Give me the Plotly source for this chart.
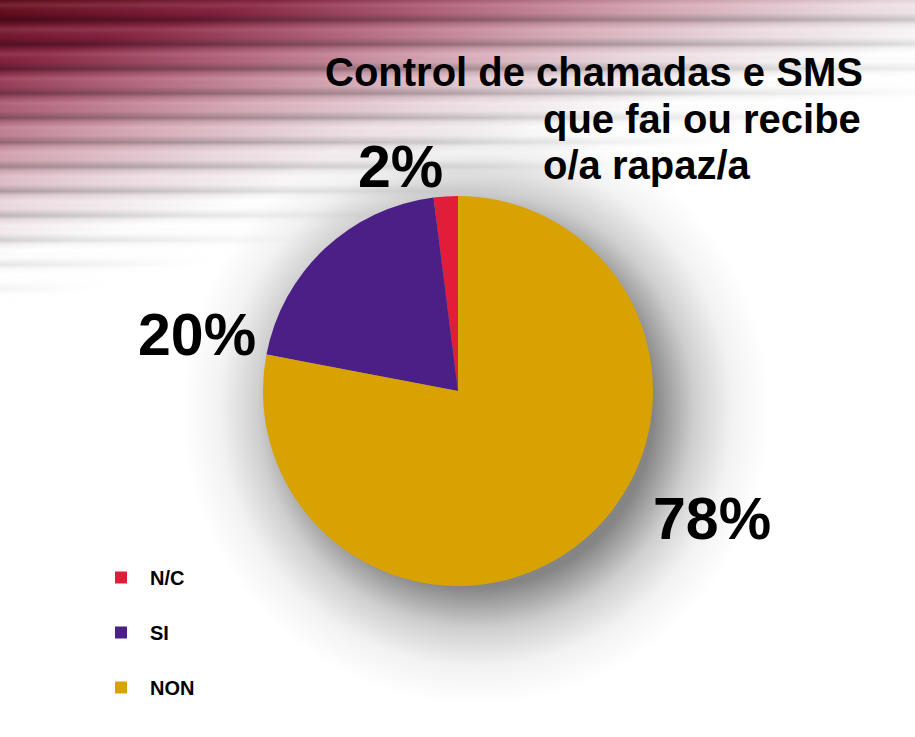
import base64
import plotly.graph_objects as go

W, H = 915, 737

# datos da enquisa (%)
categorias = ["N/C", "SI", "NON"]
valores = [2, 20, 78]
cores = ["#E11D3A", "#4B2086", "#D8A202"]

titulo = ["Control de chamadas e SMS", "que fai ou recibe", "o/a rapaz/a"]


def fx(x):
    return x / W


def fy(y):
    return 1 - y / H


# fondo: raias granate que esvaecen cara a branco + sombra da tarta
svg = f"""<svg xmlns="http://www.w3.org/2000/svg" width="{W}" height="{H}" viewBox="0 0 {W} {H}">
<defs>
 <linearGradient id="bg" gradientUnits="userSpaceOnUse" x1="0" y1="0" x2="57" y2="245">
  <stop offset="0" stop-color="#620818"/>
  <stop offset="0.25" stop-color="#8a2442"/>
  <stop offset="0.45" stop-color="#b86a82"/>
  <stop offset="0.62" stop-color="#d8a8b6"/>
  <stop offset="0.8" stop-color="#eedde3"/>
  <stop offset="0.93" stop-color="#f9f4f6"/>
  <stop offset="1" stop-color="#ffffff"/>
 </linearGradient>
 <linearGradient id="sg" x1="0" y1="0" x2="0" y2="1">
  <stop offset="0" stop-color="#000" stop-opacity="0.04"/>
  <stop offset="0.3" stop-color="#000" stop-opacity="0.4"/>
  <stop offset="0.45" stop-color="#000" stop-opacity="0.12"/>
  <stop offset="0.7" stop-color="#fff" stop-opacity="0.12"/>
  <stop offset="1" stop-color="#000" stop-opacity="0.04"/>
 </linearGradient>
 <pattern id="st" patternUnits="userSpaceOnUse" x="0" y="12.6" width="{W}" height="24.5">
  <rect width="{W}" height="24.5" fill="url(#sg)"/>
 </pattern>
 <linearGradient id="mg" gradientUnits="userSpaceOnUse" x1="0" y1="0" x2="68" y2="295">
  <stop offset="0" stop-color="#fff"/>
  <stop offset="0.65" stop-color="#999"/>
  <stop offset="1" stop-color="#000"/>
 </linearGradient>
 <mask id="m" maskUnits="userSpaceOnUse" x="0" y="0" width="{W}" height="{H}">
  <rect width="{W}" height="{H}" fill="url(#mg)"/>
 </mask>
 <radialGradient id="sh" gradientUnits="userSpaceOnUse" cx="476" cy="410" r="295">
  <stop offset="0" stop-color="#000" stop-opacity="0.48"/>
  <stop offset="0.6" stop-color="#000" stop-opacity="0.48"/>
  <stop offset="0.74" stop-color="#000" stop-opacity="0.19"/>
  <stop offset="0.87" stop-color="#000" stop-opacity="0.05"/>
  <stop offset="1" stop-color="#000" stop-opacity="0"/>
 </radialGradient>
</defs>
<rect width="{W}" height="{H}" fill="url(#bg)"/>
<rect width="{W}" height="{H}" fill="url(#st)" mask="url(#m)"/>
<circle cx="476" cy="410" r="295" fill="url(#sh)"/>
</svg>"""
fondo = "data:image/svg+xml;base64," + base64.b64encode(svg.encode()).decode()

fig = go.Figure()
fig.add_trace(go.Pie(
    labels=[c + "<br> " for c in categorias],
    values=valores,
    marker=dict(colors=cores, line=dict(width=0)),
    sort=False,
    direction="counterclockwise",
    # a primeira porción (N/C) comeza xusto á esquerda das 12 en punto
    rotation=-360 * valores[0] / sum(valores),
    textinfo="none",
    hovertemplate="%{percent}<extra></extra>",
    domain=dict(x=[fx(263), fx(653)], y=[fy(586), fy(196)]),
))

fonte = "Liberation Sans, Arial, sans-serif"
anots = []
# titulo
anots.append(dict(x=fx(865), y=fy(72), xanchor="right", text=f"<b>{titulo[0]}</b>"))
anots.append(dict(x=fx(541), y=fy(119), xanchor="left", text=f"<b>{titulo[1]}</b>"))
anots.append(dict(x=fx(541), y=fy(165), xanchor="left", text=f"<b>{titulo[2]}</b>"))
for a in anots:
    a.update(xref="paper", yref="paper", yanchor="middle", showarrow=False,
             font=dict(family=fonte, size=40, color="black"))

# porcentaxes
pos_pct = [(400, 167), (197, 335), (712, 519)]
for v, (px_, py_) in zip(valores, pos_pct):
    anots.append(dict(x=fx(px_), y=fy(py_), xref="paper", yref="paper",
                      xanchor="center", yanchor="middle", showarrow=False,
                      text=f"<b>{v}%</b>",
                      font=dict(family=fonte, size=59, color="black")))

fig.update_layout(
    width=W, height=H,
    margin=dict(l=0, r=0, t=0, b=0),
    paper_bgcolor="white",
    images=[dict(source=fondo, xref="paper", yref="paper", x=0, y=1,
                 sizex=1, sizey=1, xanchor="left", yanchor="top",
                 sizing="stretch", layer="below")],
    annotations=anots,
    showlegend=True,
    legend=dict(x=fx(92), y=fy(558), xanchor="left", yanchor="top",
                bgcolor="rgba(0,0,0,0)", valign="top", itemwidth=48,
                font=dict(family=fonte, size=20, color="black", weight="bold")),
)

fig.write_html("out.html", config={"displayModeBar": False},
               post_script="document.body.style.margin='0';")
